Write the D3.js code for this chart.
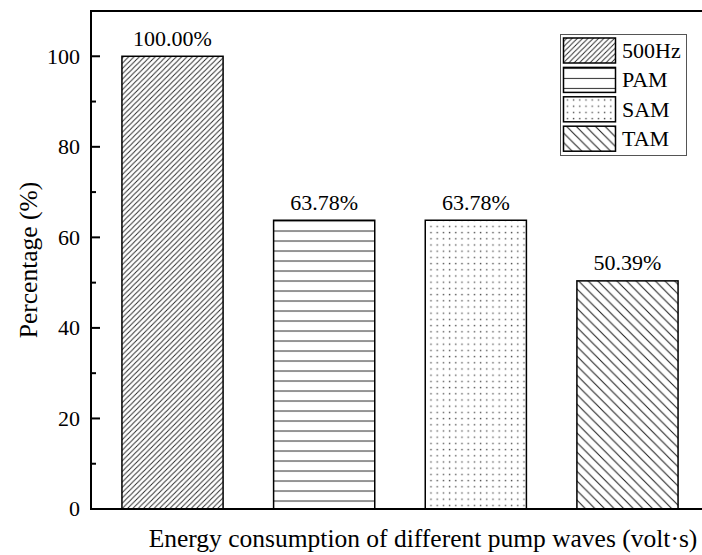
<!DOCTYPE html>
<html>
<head>
<meta charset="utf-8">
<script src="https://cdn.jsdelivr.net/npm/d3@7"></script>
<style>
  html, body { margin: 0; padding: 0; background: #fff; }
  svg text { font-family: "Liberation Serif", serif; }
</style>
</head>
<body>
<svg id="chart" width="702" height="555"></svg>
<script>
// Energy consumption of the four pump waveforms, relative to 500 Hz
const categories = ["500Hz", "PAM", "SAM", "TAM"];
const values = [100.00, 63.78, 63.78, 50.39];
const valueLabels = ["100.00%", "63.78%", "63.78%", "50.39%"];
const yTicks = [0, 20, 40, 60, 80, 100];
const yMinorTicks = [10, 30, 50, 70, 90];
const patternIds = ["pat-fwd", "pat-horiz", "pat-dots", "pat-back"];

const svg = d3.select("#chart");
const margin = { left: 91, top: 11, right: 709, bottom: 509 };
const FONT = "Liberation Serif";

const x = d3.scaleBand()
  .domain(categories)
  .range([margin.left, margin.right])
  .paddingInner(0.333)
  .paddingOuter(0.204);

const y = d3.scaleLinear().domain([0, 110]).range([margin.bottom, margin.top]);

// Fill patterns for each bar
const defs = svg.append("defs");

const fwd = defs.append("pattern").attr("id", "pat-fwd")
  .attr("patternUnits", "userSpaceOnUse").attr("width", 5.3).attr("height", 5.3);
fwd.append("path").attr("d", "M-1,1 L1,-1 M0,5.3 L5.3,0 M4.3,6.3 L6.3,4.3")
  .attr("stroke", "#222").attr("stroke-width", 0.9);

const horiz = defs.append("pattern").attr("id", "pat-horiz")
  .attr("patternUnits", "userSpaceOnUse").attr("width", 10).attr("height", 10)
  .attr("y", 0.5);
horiz.append("line").attr("x1", 0).attr("x2", 10).attr("y1", 0.5).attr("y2", 0.5)
  .attr("stroke", "#333").attr("stroke-width", 1.1);

const dots = defs.append("pattern").attr("id", "pat-dots")
  .attr("patternUnits", "userSpaceOnUse").attr("width", 6.2).attr("height", 6.2);
dots.append("rect").attr("x", 2.5).attr("y", 2.5).attr("width", 1.4).attr("height", 1.4)
  .attr("fill", "#555");

const back = defs.append("pattern").attr("id", "pat-back")
  .attr("patternUnits", "userSpaceOnUse").attr("width", 9.6).attr("height", 9.6);
back.append("path").attr("d", "M-1,-1 L10.6,10.6 M-1,8.6 L1,10.6 M8.6,-1 L10.6,1")
  .attr("stroke", "#222").attr("stroke-width", 1.1);

// Bars
svg.append("g").selectAll("rect.bar")
  .data(categories)
  .join("rect")
  .attr("class", "bar")
  .attr("x", d => x(d))
  .attr("width", x.bandwidth())
  .attr("y", (d, i) => y(values[i]))
  .attr("height", (d, i) => y(0) - y(values[i]))
  .attr("fill", (d, i) => `url(#${patternIds[i]})`)
  .attr("stroke", "#000")
  .attr("stroke-width", 1.5);

// Value labels above bars
svg.append("g").selectAll("text")
  .data(categories)
  .join("text")
  .attr("x", d => x(d) + x.bandwidth() / 2)
  .attr("y", (d, i) => y(values[i]) - 10.5)
  .attr("text-anchor", "middle")
  .attr("font-family", FONT)
  .attr("font-size", 22)
  .attr("fill", "#000")
  .text((d, i) => valueLabels[i]);

// Frame: left, top and bottom edges
svg.append("line").attr("x1", margin.left).attr("x2", margin.left)
  .attr("y1", margin.top).attr("y2", margin.bottom)
  .attr("stroke", "#000").attr("stroke-width", 2);
svg.append("line").attr("x1", margin.left - 1).attr("x2", margin.right)
  .attr("y1", margin.top).attr("y2", margin.top)
  .attr("stroke", "#000").attr("stroke-width", 2);
svg.append("line").attr("x1", margin.left - 1).attr("x2", margin.right)
  .attr("y1", margin.bottom).attr("y2", margin.bottom)
  .attr("stroke", "#000").attr("stroke-width", 2);

// Y axis: inward ticks with labels on the left
const yAxis = svg.append("g").attr("transform", `translate(${margin.left},0)`);
yAxis.selectAll("line.major")
  .data(yTicks)
  .join("line")
  .attr("class", "major")
  .attr("x1", 0).attr("x2", 9)
  .attr("y1", d => y(d)).attr("y2", d => y(d))
  .attr("stroke", "#000").attr("stroke-width", 2);
yAxis.selectAll("line.minor")
  .data(yMinorTicks)
  .join("line")
  .attr("class", "minor")
  .attr("x1", 0).attr("x2", 5)
  .attr("y1", d => y(d)).attr("y2", d => y(d))
  .attr("stroke", "#000").attr("stroke-width", 2);
yAxis.selectAll("text")
  .data(yTicks)
  .join("text")
  .attr("x", -11)
  .attr("y", d => y(d))
  .attr("dy", "0.34em")
  .attr("text-anchor", "end")
  .attr("font-family", FONT)
  .attr("font-size", 22)
  .attr("fill", "#000")
  .text(d => d);

// Axis titles
svg.append("text")
  .attr("transform", `translate(37,${(margin.top + margin.bottom) / 2}) rotate(-90)`)
  .attr("text-anchor", "middle")
  .attr("font-family", FONT)
  .attr("font-size", 25.5)
  .attr("fill", "#000")
  .text("Percentage (%)");

svg.append("text")
  .attr("x", 423)
  .attr("y", 547)
  .attr("text-anchor", "middle")
  .attr("font-family", FONT)
  .attr("font-size", 25.5)
  .attr("fill", "#000")
  .text("Energy consumption of different pump waves (volt·s)");

// Legend
const legend = svg.append("g");
legend.append("rect")
  .attr("x", 560.5).attr("y", 34.5).attr("width", 126).attr("height", 121)
  .attr("fill", "#fff").attr("stroke", "#555").attr("stroke-width", 1);
const rowStep = 29.4;
const rows = legend.selectAll("g.row")
  .data(categories)
  .join("g")
  .attr("class", "row")
  .attr("transform", (d, i) => `translate(0,${38 + i * rowStep})`);
rows.append("rect")
  .attr("x", 563.5).attr("y", 0).attr("width", 52).attr("height", 25)
  .attr("fill", (d, i) => `url(#${patternIds[i]})`)
  .attr("stroke", "#000").attr("stroke-width", 1.5);
rows.append("text")
  .attr("x", 622)
  .attr("y", 12.5)
  .attr("dy", "0.34em")
  .attr("font-family", FONT)
  .attr("font-size", 22)
  .attr("fill", "#000")
  .text(d => d);
</script>
</body>
</html>
